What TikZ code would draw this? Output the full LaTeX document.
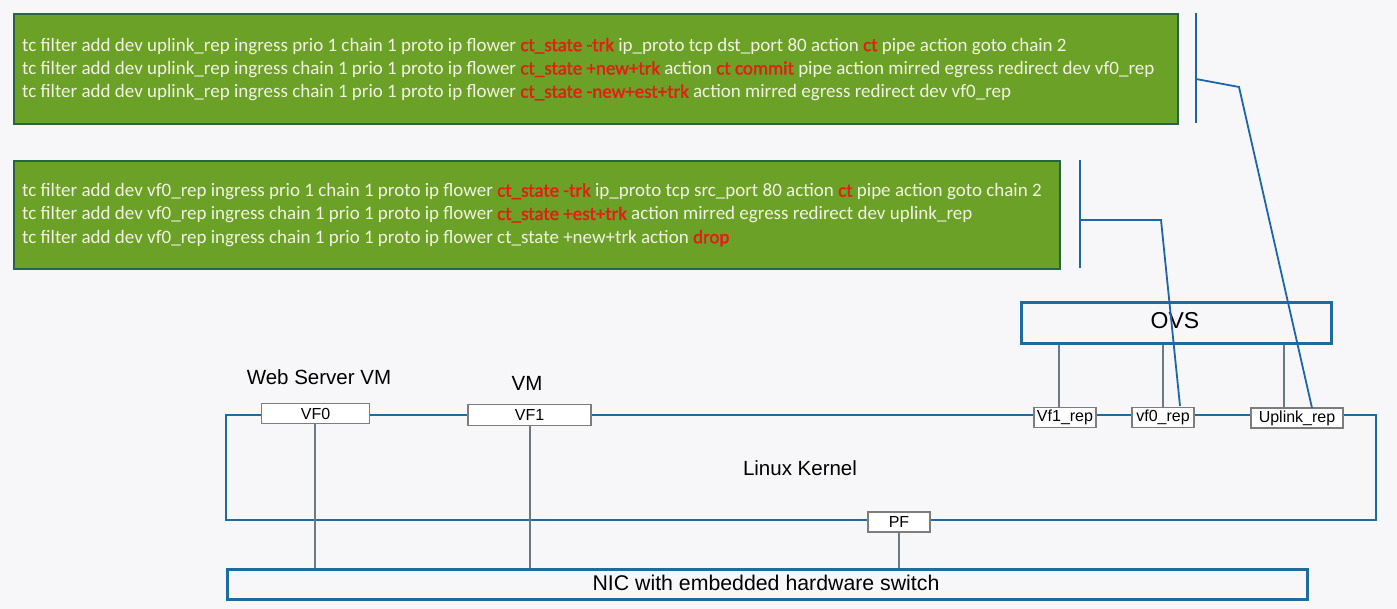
\documentclass[tikz,border=0pt]{standalone}
\usepackage{fontspec}
\setmainfont{Liberation Sans}
\newfontfamily\carl{Carlito}
\newfontfamily\carlb[FakeBold=1.5]{Carlito}
\definecolor{bgc}{RGB}{247,247,249}
\definecolor{gfill}{RGB}{106,161,38}
\definecolor{gborder}{RGB}{42,100,72}
\definecolor{gtext}{RGB}{243,243,228}
\definecolor{hlred}{RGB}{228,30,20}
\definecolor{kblue}{RGB}{28,108,160}
\definecolor{ablue}{RGB}{30,100,172}
\definecolor{pgray}{RGB}{125,125,125}
\newcommand\hl[1]{{\carlb\textcolor{hlred}{#1}}}
\tikzset{
  greenbox/.style={draw=gborder, fill=gfill, line width=2pt, anchor=north west, inner sep=0pt},
  gtxt/.style={anchor=west, align=left, inner sep=0pt, text=gtext, font=\carl\fontsize{19}{23.3}\selectfont},
  kline/.style={draw=kblue, line width=2.6pt},
  ann/.style={draw=ablue, line width=1.8pt},
  port/.style={draw=pgray, fill=white, line width=1.4pt, inner sep=0pt, font=\fontsize{16}{17}\selectfont},
  thin/.style={draw=pgray!80!kblue, line width=1.1pt},
  lbl/.style={inner sep=0pt, font=\fontsize{20.5}{22}\selectfont},
}
\begin{document}
\begin{tikzpicture}[x=1pt,y=-1pt]
\fill[bgc] (0,0) rectangle (1397,609);
\useasboundingbox (0,0) rectangle (1397,609);

% green boxes
\node[greenbox, minimum width=1164pt, minimum height=110pt] (g1) at (13,13) {};
\node[gtxt] (t1) at (22,69.5) {tc filter add dev uplink\_rep ingress prio 1 chain 1 proto ip flower \hl{ct\_state -trk} ip\_proto tcp dst\_port 80 action \hl{ct} pipe action goto chain 2\\
tc filter add dev uplink\_rep ingress chain 1 prio 1 proto ip flower \hl{ct\_state +new+trk} action \hl{ct commit} pipe action mirred egress redirect dev vf0\_rep\\
tc filter add dev uplink\_rep ingress chain 1 prio 1 proto ip flower \hl{ct\_state -new+est+trk} action mirred egress redirect dev vf0\_rep};

\node[greenbox, minimum width=1046pt, minimum height=108pt] (g2) at (13,160) {};
\node[gtxt] (t2) at (22,215) {tc filter add dev vf0\_rep ingress prio 1 chain 1 proto ip flower \hl{ct\_state -trk} ip\_proto tcp src\_port 80 action \hl{ct} pipe action goto chain 2\\
tc filter add dev vf0\_rep ingress chain 1 prio 1 proto ip flower \hl{ct\_state +est+trk} action mirred egress redirect dev uplink\_rep\\
tc filter add dev vf0\_rep ingress chain 1 prio 1 proto ip flower ct\_state +new+trk action \hl{drop}};

% kernel box
\draw[kline] (226,415) rectangle (1376,520);
\node[lbl] (lk) at (800,468) {Linux Kernel};

% NIC
\node[draw=kblue, line width=2.6pt, fill=bgc, anchor=north west, minimum width=1080pt, minimum height=30pt, inner sep=0pt] (nic) at (226,568) {};
\node[inner sep=0pt, font=\fontsize{21.3}{22}\selectfont] (nict) at (766,583) {NIC with embedded hardware switch};

% OVS
\node[draw=kblue, line width=2.6pt, fill=bgc, anchor=north west, minimum width=310pt, minimum height=41pt, inner sep=0pt] (ovs) at (1020,301) {};
\node[font=\fontsize{23}{24}\selectfont, inner sep=0pt] (ovst) at (1175,321) {OVS};

% VM labels
\node[lbl] (wsvm) at (319,377) {Web Server VM};
\node[lbl] (vm) at (527,383) {VM};

% ports
\node[port, minimum width=108pt, minimum height=20pt] (vf0) at (315.5,413.5) {VF0};
\node[port, minimum width=123pt, minimum height=21pt] (vf1) at (529.5,415) {VF1};
\node[port, minimum width=62pt, minimum height=20pt] (pf) at (899,522) {PF};
\node[port, minimum width=62pt, minimum height=20pt] (vf1r) at (1065,417.5) {Vf1\_rep};
\node[port, minimum width=62pt, minimum height=20pt] (vf0r) at (1163,417.5) {vf0\_rep};
\node[port, minimum width=92pt, minimum height=20pt] (uplr) at (1297,418) {Uplink\_rep};

% thin connectors
\draw[thin] (vf0.south -| 315,0) -- (nic.north -| 315,0);
\draw[thin] (vf1.south -| 530,0) -- (nic.north -| 530,0);
\draw[thin] (pf.south) -- (nic.north -| pf.south);
\draw[thin] (ovs.south -| 1059,0) -- (vf1r.north -| 1059,0);
\draw[thin] (ovs.south -| 1163,0) -- (vf0r.north -| 1163,0);
\draw[thin] (ovs.south -| 1284,0) -- (uplr.north -| 1284,0);

% annotation brackets
\coordinate (b1t) at (1196,13);
\coordinate (b1b) at (1196,123);
\coordinate (b1m) at (1196,79);
\coordinate (b1k) at (1239,87);
\coordinate (b1e) at (1312,408);
\draw[ann] (b1t) -- (b1b);
\draw[ann] (b1m) -- (b1k) -- (b1e);

\coordinate (b2t) at (1080,160);
\coordinate (b2b) at (1080,268);
\coordinate (b2m) at (1080,220);
\coordinate (b2k) at (1161,220);
\coordinate (b2e) at (1180,406);
\draw[ann] (b2t) -- (b2b);
\draw[ann] (b2m) -- (b2k) -- (b2e);
\end{tikzpicture}
\end{document}
